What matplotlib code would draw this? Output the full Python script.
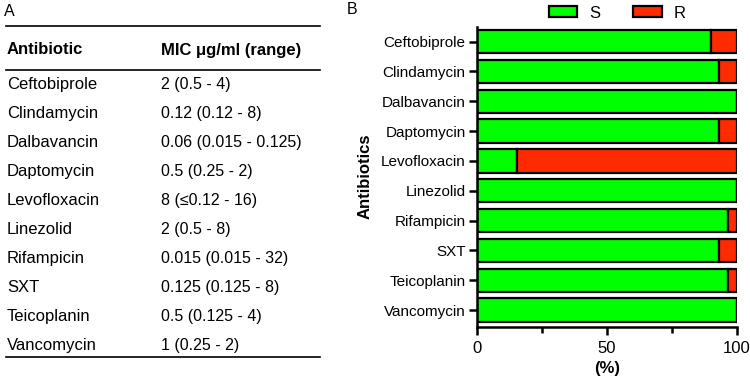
import matplotlib
matplotlib.use("Agg")
import matplotlib.pyplot as plt
import numpy as np
from matplotlib.patches import Patch

plt.rcParams['font.family'] = ['Liberation Sans', 'DejaVu Sans']

# data
antibiotics = ['Ceftobiprole', 'Clindamycin', 'Dalbavancin', 'Daptomycin', 'Levofloxacin',
               'Linezolid', 'Rifampicin', 'SXT', 'Teicoplanin', 'Vancomycin']
mic = ['2 (0.5 - 4)', '0.12 (0.12 - 8)', '0.06 (0.015 - 0.125)', '0.5 (0.25 - 2)',
       '8 (\u22640.12 - 16)', '2 (0.5 - 8)', '0.015 (0.015 - 32)', '0.125 (0.125 - 8)',
       '0.5 (0.125 - 4)', '1 (0.25 - 2)']
susceptible = [90, 93.3, 100, 93.3, 15.5, 100, 96.5, 93.3, 96.5, 100]
resistant = [100 - s for s in susceptible]

green = '#00ff00'
red = '#ff2a00'

W, H = 750, 380
fig = plt.figure(figsize=(7.5, 3.8), dpi=100)


def fx(px):
    return px / W


def fy(py):
    return 1 - py / H


# panel A: table
fig.text(fx(4), fy(12), 'A', fontsize=11.5, va='center', ha='left')
for yy in (26, 70, 357):
    fig.add_artist(plt.Line2D([fx(6), fx(320)], [fy(yy), fy(yy)], color='black', lw=1.2))
fig.text(fx(7), fy(50), 'Antibiotic', fontsize=12, weight='bold', va='center')
fig.text(fx(161), fy(50), 'MIC \u03bcg/ml (range)', fontsize=12, weight='bold', va='center')
row_y0, row_dy = 85, 28.9
for i, (name, m) in enumerate(zip(antibiotics, mic)):
    y = fy(row_y0 + i * row_dy)
    fig.text(fx(7), y, name, fontsize=12, va='center')
    fig.text(fx(161), y, m, fontsize=11.5, va='center')

# panel B: stacked bars
ax = fig.add_axes([fx(476.7), fy(326.7), fx(736.7 - 476.7), (326.7 - 26.7) / H])
y = np.arange(len(antibiotics))
ax.barh(y, susceptible, height=0.78, color=green, edgecolor='black', linewidth=1.6)
ax.barh(y, resistant, left=susceptible, height=0.78, color=red, edgecolor='black', linewidth=1.6)
ax.set_ylim(9.56, -0.5)
ax.set_xlim(0, 100)
ax.set_yticks(y)
ax.set_yticklabels(antibiotics, fontsize=11)
ax.set_xticks([0, 50, 100])
ax.set_xticks([25, 75], minor=True)
ax.tick_params(axis='both', which='major', width=1.8, length=6, labelsize=11, pad=2)
ax.tick_params(axis='x', which='major', labelsize=12, pad=4)
ax.tick_params(axis='x', which='minor', width=1.8, length=4)
for s in ('top', 'right'):
    ax.spines[s].set_visible(False)
for s in ('left', 'bottom'):
    ax.spines[s].set_linewidth(1.8)
ax.set_xlabel('(%)', fontsize=12, weight='bold', labelpad=4)
ax.set_ylabel('Antibiotics', fontsize=12, weight='bold', labelpad=6)

fig.text(fx(347), fy(9), 'B', fontsize=11.5, va='center', ha='left')
handles = [Patch(facecolor=green, edgecolor='black', linewidth=1.6, label='S'),
           Patch(facecolor=red, edgecolor='black', linewidth=1.6, label='R')]
fig.legend(handles=handles, loc='center', bbox_to_anchor=(fx(617), fy(13)), ncol=2,
           frameon=False, fontsize=12, handlelength=1.7, handleheight=0.65,
           columnspacing=2.0, handletextpad=0.7, borderpad=0)

fig.savefig('out.png', dpi=100)
